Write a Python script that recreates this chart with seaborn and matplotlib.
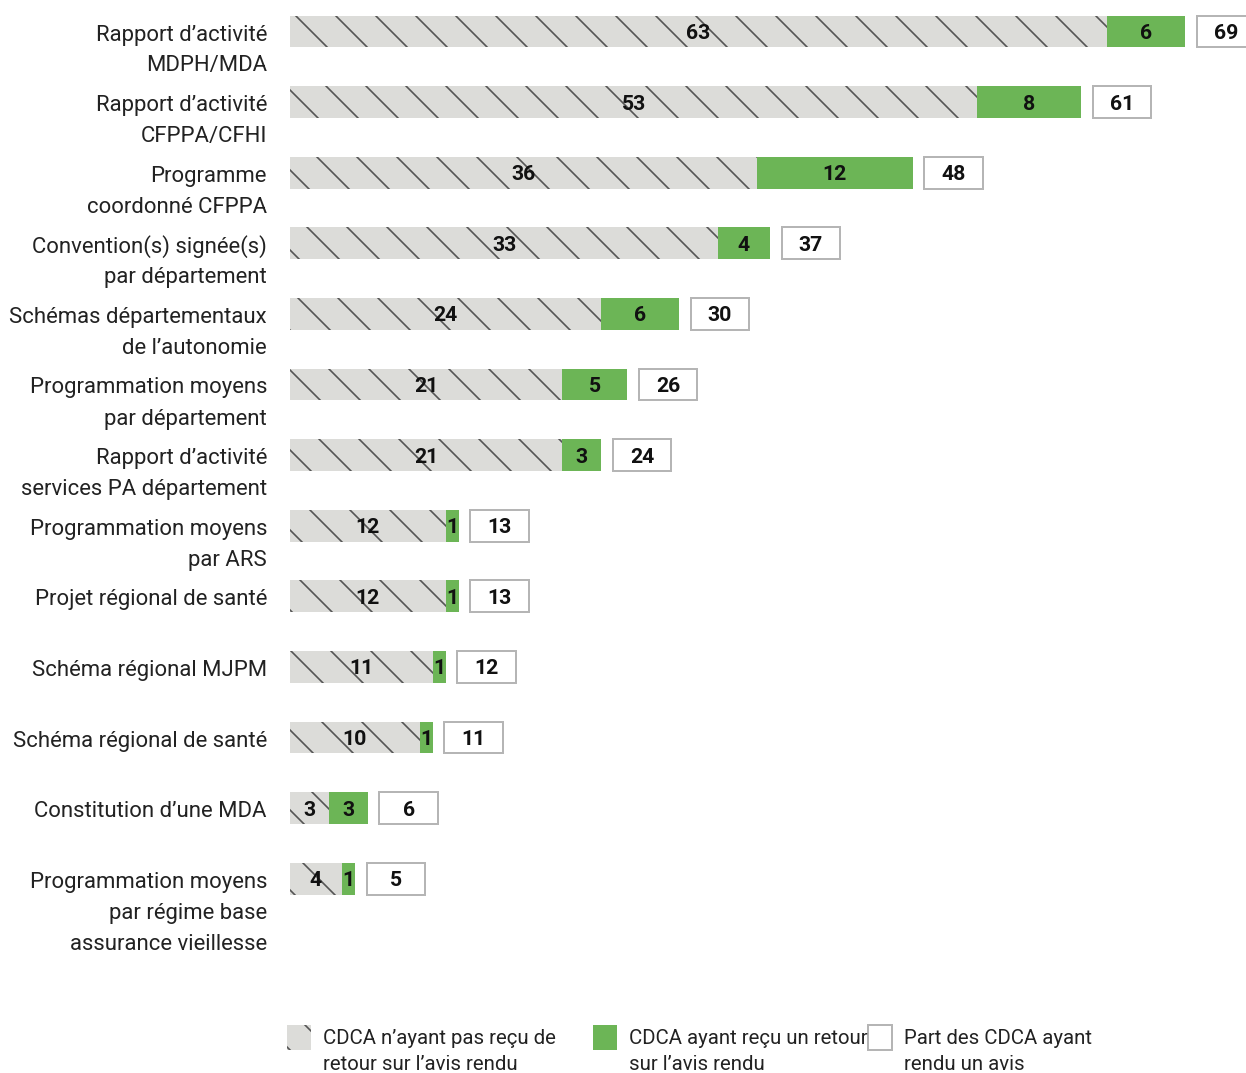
import matplotlib
matplotlib.use("Agg")
import matplotlib.pyplot as plt
from matplotlib.patches import Rectangle
import seaborn as sns
import pandas as pd

# Données
categories = [
    "Rapport d’activité\nMDPH/MDA",
    "Rapport d’activité\nCFPPA/CFHI",
    "Programme\ncoordonné CFPPA",
    "Convention(s) signée(s)\npar département",
    "Schémas départementaux\nde l’autonomie",
    "Programmation moyens\npar département",
    "Rapport d’activité\nservices PA département",
    "Programmation moyens\npar ARS",
    "Projet régional de santé",
    "Schéma régional MJPM",
    "Schéma régional de santé",
    "Constitution d’une MDA",
    "Programmation moyens\npar régime base\nassurance vieillesse",
]
sans_retour = [63, 53, 36, 33, 24, 21, 21, 12, 12, 11, 10, 3, 4]
avec_retour = [6, 8, 12, 4, 6, 5, 3, 1, 1, 1, 1, 3, 1]
total_avis = [69, 61, 48, 37, 30, 26, 24, 13, 13, 12, 11, 6, 5]

legend_labels = [
    "CDCA n’ayant pas reçu de\nretour sur l’avis rendu",
    "CDCA ayant reçu un retour\nsur l’avis rendu",
    "Part des CDCA ayant\nrendu un avis",
]

GREY = "#dcdcd9"
GREEN = "#6cb556"
HATCH_COL = "#555555"
BOX_EDGE = "#b5b5b5"
TXT = "#222222"

sns.set_theme(style="white")
plt.rcParams["font.family"] = ["Roboto", "DejaVu Sans"]
plt.rcParams["hatch.linewidth"] = 0.5

DPI = 240
W, H = 1246, 1073
PX = 72 / DPI  # points par pixel
fig = plt.figure(figsize=(W / DPI, H / DPI), dpi=DPI)
ax = fig.add_axes([290 / W, 1 - 960 / H, 956 / W, 960 / H])

df = pd.DataFrame({
    "categorie": categories,
    "sans_retour": sans_retour,
    "avec_retour": avec_retour,
    "total": total_avis,
})
df["cumul"] = df["sans_retour"] + df["avec_retour"]

BAR_W = 0.45
# Barre verte complète, puis partie grise hachurée par-dessus
sns.barplot(data=df, y="categorie", x="cumul", color=GREEN, saturation=1,
            width=BAR_W, orient="h", ax=ax, linewidth=0)
n0 = len(ax.patches)
sns.barplot(data=df, y="categorie", x="sans_retour", color=GREY, saturation=1,
            width=BAR_W, orient="h", ax=ax, linewidth=0)
for p in ax.patches[n0:]:
    p.set_hatch("\\\\")
    p.set_edgecolor(HATCH_COL)
    p.set_linewidth(0)

# Cases blanches du total
GAP, BOX_W = 0.9, 4.5
ypos = list(range(len(categories)))
ax.barh(ypos, [BOX_W] * len(ypos), left=[t + GAP for t in total_avis],
        height=BAR_W, color="white", edgecolor=BOX_EDGE, linewidth=0.6,
        clip_on=False)

val_kw = dict(ha="center", va="center_baseline", fontsize=6.4,
              fontweight="bold", color="#111111")
for i, (g, v, t) in enumerate(zip(sans_retour, avec_retour, total_avis)):
    ax.text(g / 2, i, str(g), **val_kw)
    ax.text(g + v / 2, i, str(v), **val_kw)
    ax.text(t + GAP + BOX_W / 2, i, str(t), **val_kw)

# Libellés des catégories : première ligne alignée sur la barre
LINE_PX = 31
for i, lab in enumerate(categories):
    for k, line in enumerate(lab.split("\n")):
        ax.annotate(line, xy=(0, i), xycoords="data",
                    xytext=(-23 * PX, -(k * LINE_PX + 1) * PX),
                    textcoords="offset points", ha="right",
                    va="center_baseline", fontsize=6.65, color=TXT)

ax.set_xlim(0, 956 / 12.97)
ax.set_ylim((960 - 31.5) / 70.6, -31.5 / 70.6)
ax.axis("off")

# Légende
leg_x = [287, 593, 868]
leg_styles = [
    dict(facecolor=GREY, edgecolor=HATCH_COL, hatch="\\\\", linewidth=0),
    dict(facecolor=GREEN, edgecolor=GREEN, linewidth=0),
    dict(facecolor="white", edgecolor=BOX_EDGE, linewidth=0.6),
]
for xa, style, lab in zip(leg_x, leg_styles, legend_labels):
    fig.add_artist(Rectangle((xa / W, 1 - 1050 / H), 24 / W, 25 / H,
                             transform=fig.transFigure, **style))
    for k, line in enumerate(lab.split("\n")):
        fig.text((xa + 36) / W, 1 - (1037 + 25 * k) / H, line,
                 ha="left", va="center_baseline", fontsize=6.1, color=TXT)

fig.savefig("out.png", dpi=DPI)
